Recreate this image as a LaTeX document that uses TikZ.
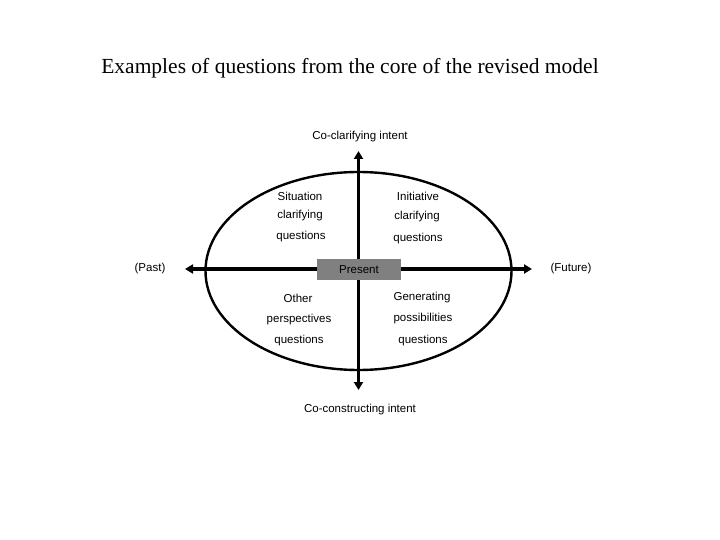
\documentclass[tikz,border=0pt]{standalone}
\usepackage{fontspec}
\setmainfont{Liberation Serif}
\setsansfont{Liberation Sans}
\usetikzlibrary{arrows.meta}
\begin{document}
\begin{tikzpicture}[x=1pt,y=-1pt,
  lbl/.style={font=\sffamily\fontsize{11.5}{13}\selectfont, inner sep=0pt},
  axis/.style={line width=3.5pt, {Triangle[length=8pt,width=9pt]}-{Triangle[length=8pt,width=9pt]}}]
\useasboundingbox[fill=white] (0,0) rectangle (720,540);
\node[font=\fontsize{21.5}{24}\selectfont, inner sep=0pt] (title) at (350,68) {Examples of questions from the core of the revised model};
\node[lbl] (top) at (360,137) {Co-clarifying intent};
\node[lbl] (bot) at (360,410) {Co-constructing intent};
\node[lbl] (past) at (150,269) {(Past)};
\node[lbl] (fut) at (571,269) {(Future)};
\draw[line width=2.4pt] (358.5,271) ellipse [x radius=153, y radius=99];
\coordinate (t) at (358.5,151);
\coordinate (b) at (358.5,390);
\coordinate (l) at (185,269);
\coordinate (r) at (532,269);
\draw[axis] (b) -- (t);
\draw[axis] (l) -- (r);
\node[lbl, fill=gray, minimum width=84pt, minimum height=21pt] (pres) at (359,269.5) {Present};
\node[lbl] (a1) at (300,196) {Situation};
\node[lbl] (a2) at (300,216) {clarifying};
\node[lbl] (a3) at (301,237) {questions};
\node[lbl] (b1) at (418,196) {Initiative};
\node[lbl] (b2) at (417,217) {clarifying};
\node[lbl] (b3) at (418,239) {questions};
\node[lbl] (c1) at (298,298) {Other};
\node[lbl] (c2) at (299,320) {perspectives};
\node[lbl] (c3) at (299,341) {questions};
\node[lbl] (d1) at (422,298) {Generating};
\node[lbl] (d2) at (423,319) {possibilities};
\node[lbl] (d3) at (423,341) {questions};
\end{tikzpicture}
\end{document}
